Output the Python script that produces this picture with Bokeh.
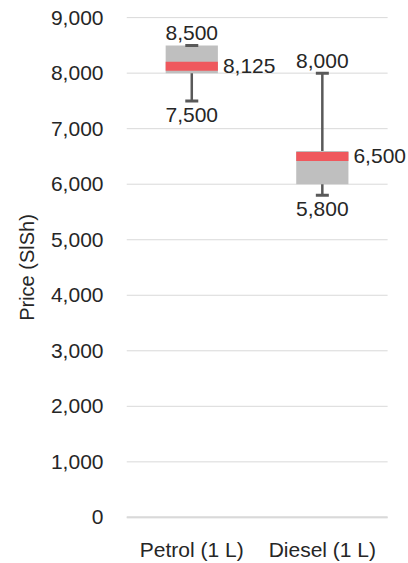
from bokeh.plotting import figure
from bokeh.models import ColumnDataSource, LabelSet, Range1d, NumeralTickFormatter, FixedTicker
from bokeh.core.properties import value
from bokeh.embed import file_html
from bokeh.resources import INLINE

categories = ["Petrol (1 L)", "Diesel (1 L)"]
mins = [7500, 5800]
q1 = [8000, 6000]
medians = [8125, 6500]
q3 = [8500, 6600]
maxs = [8500, 8000]
y_ticks = [0, 1000, 2000, 3000, 4000, 5000, 6000, 7000, 8000, 9000]

FONT = "Liberation Sans"
TXT = "#262626"
WH = "#595959"
GRID = "#d9d9d9"

xs = [i + 0.5 for i in range(len(categories))]
n = len(categories)

src = ColumnDataSource(dict(
    x=xs, xr=[x + 0.2 for x in xs], lo=mins, q1=q1, med=medians, q3=q3, hi=maxs,
    lo_lbl=[f"{v:,}" for v in mins],
    med_lbl=[f"{v:,}" for v in medians],
    hi_lbl=[f"{v:,}" for v in maxs],
))

p = figure(x_range=Range1d(0, n * 1.08), y_range=Range1d(-20, 9020),
           width=408, height=563, output_backend="svg", toolbar_location=None,
           min_border_left=126, min_border_right=0, min_border_top=16, min_border_bottom=44)
p.outline_line_color = None
p.xgrid.grid_line_color = None
p.ygrid.grid_line_color = None

# gridlines limited to the category span
p.segment(x0=[0] * len(y_ticks), x1=[n] * len(y_ticks), y0=y_ticks, y1=y_ticks,
          line_color=GRID, line_width=1)
p.segment(x0=[0], x1=[n], y0=[0], y1=[0], line_color=GRID, line_width=2.5)

p.vbar(x="x", bottom="q1", top="q3", width=0.4, source=src,
       fill_color="#bfbfbf", line_color=None)
p.rect(x="x", y="med", width=0.4, height=9, height_units="screen", source=src,
       fill_color="#ef585d", line_color=None)
p.segment(x0="x", y0="q3", x1="x", y1="hi", source=src, line_color=WH, line_width=2.5)
p.segment(x0="x", y0="q1", x1="x", y1="lo", source=src, line_color=WH, line_width=2.5)
p.scatter(x="x", y="hi", marker="dash", size=13, line_width=3, line_color=WH, source=src)
p.scatter(x="x", y="lo", marker="dash", size=13, line_width=3, line_color=WH, source=src)

common = dict(source=src, text_font=value(FONT), text_font_size=value("21px"),
              text_color=TXT)
p.add_layout(LabelSet(x="x", y="hi", text="hi_lbl", text_align="center",
                      text_baseline="bottom", y_offset=5, **common))
p.add_layout(LabelSet(x="x", y="lo", text="lo_lbl", text_align="center",
                      text_baseline="top", y_offset=-7, **common))
p.add_layout(LabelSet(x="xr", y="med", text="med_lbl",
                      text_align="left", text_baseline="middle", x_offset=5, **common))

p.yaxis.ticker = FixedTicker(ticks=y_ticks)
p.yaxis.formatter = NumeralTickFormatter(format="0,0")
p.yaxis.axis_line_color = None
p.yaxis.major_tick_line_color = None
p.yaxis.minor_tick_line_color = None
p.yaxis.major_tick_out = 0
p.yaxis.major_label_standoff = 23
p.yaxis.major_label_text_font = FONT
p.yaxis.major_label_text_font_size = "21px"
p.yaxis.major_label_text_color = TXT
p.yaxis.axis_label = "Price (SlSh)"
p.yaxis.axis_label_text_font = FONT
p.yaxis.axis_label_text_font_size = "20px"
p.yaxis.axis_label_text_font_style = "normal"
p.yaxis.axis_label_text_color = TXT
p.yaxis.axis_label_standoff = 10

p.xaxis.ticker = FixedTicker(ticks=xs)
p.xaxis.major_label_overrides = {x: c for x, c in zip(xs, categories)}
p.xaxis.axis_line_color = None
p.xaxis.major_tick_line_color = None
p.xaxis.minor_tick_line_color = None
p.xaxis.major_tick_out = 0
p.xaxis.major_label_standoff = 19
p.xaxis.major_label_text_font = FONT
p.xaxis.major_label_text_font_size = "21px"
p.xaxis.major_label_text_color = TXT

open("out.html", "w").write(file_html(p, INLINE))
